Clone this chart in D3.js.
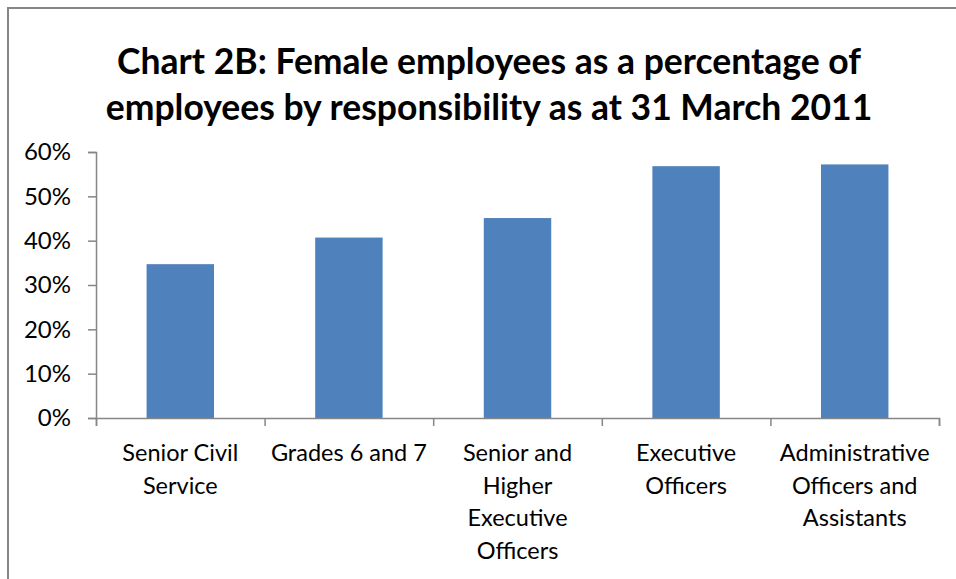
<!DOCTYPE html>
<html>
<head>
<meta charset="utf-8">
<script src="https://cdn.jsdelivr.net/npm/d3@7"></script>
<style>
  body { margin: 0; background: #fff; }
  svg { display: block; }
  svg text { font-family: Lato, "Open Sans", sans-serif; }
</style>
</head>
<body>
<div id="chart"></div>
<script>
// data
const categories = [
  "Senior Civil Service",
  "Grades 6 and 7",
  "Senior and Higher Executive Officers",
  "Executive Officers",
  "Administrative Officers and Assistants"
];
const tickLabels = [
  ["Senior Civil", "Service"],
  ["Grades 6 and 7"],
  ["Senior and", "Higher", "Executive", "Officers"],
  ["Executive", "Officers"],
  ["Administrative", "Officers and", "Assistants"]
];
const femalePct = [0.347, 0.407, 0.451, 0.568, 0.572];
const yTicks = [0, 0.1, 0.2, 0.3, 0.4, 0.5, 0.6];
const titleLines = [
  "Chart 2B: Female employees as a percentage of",
  "employees by responsibility as at 31 March 2011"
];

const W = 956, H = 579;
const margin = { top: 152, right: 17, bottom: 161, left: 96 };
const width = W - margin.left - margin.right;
const height = H - margin.top - margin.bottom;
const axisColor = "#868686";

const root = d3.select("#chart").append("svg")
  .attr("width", W)
  .attr("height", H);

// chart frame (runs off the right and bottom of the picture)
root.append("rect")
  .attr("x", 8).attr("y", 8)
  .attr("width", 1000).attr("height", 1000)
  .attr("fill", "none")
  .attr("stroke", axisColor)
  .attr("stroke-width", 2);

// title
root.append("g").selectAll("text")
  .data(titleLines)
  .enter().append("text")
  .attr("x", 489)
  .attr("y", (d, i) => 74 + i * 46)
  .attr("text-anchor", "middle")
  .style("font-weight", "bold")
  .style("font-size", "35.5px")
  .text(d => d);

const svg = root.append("g")
  .attr("transform", "translate(" + margin.left + "," + margin.top + ")");

const x = d3.scaleBand()
  .domain(categories)
  .range([0, width])
  .paddingInner(0.6)
  .paddingOuter(0.3);

const edges = d3.scaleLinear()
  .domain([0, categories.length])
  .range([0, width]);

const y = d3.scaleLinear()
  .domain([0, 0.6])
  .range([height, 0]);

// bars
svg.selectAll(".bar")
  .data(femalePct)
  .enter().append("rect")
  .attr("class", "bar")
  .attr("x", (d, i) => x(categories[i]))
  .attr("y", d => y(d))
  .attr("width", x.bandwidth())
  .attr("height", d => height - y(d))
  .attr("fill", "#4f81bd");

// y axis
const yAxis = svg.append("g")
  .call(d3.axisLeft(y).tickValues(yTicks).tickFormat(d3.format(".0%")).tickSize(8).tickPadding(17));
yAxis.selectAll("path, line").attr("stroke", axisColor).attr("stroke-width", 1.5);
yAxis.selectAll("text")
  .style("font-family", "Lato, sans-serif")
  .style("font-size", "24px")
  .attr("fill", "#000");

// x axis: boundary ticks
const xAxis = svg.append("g")
  .attr("transform", "translate(0," + height + ")")
  .call(d3.axisBottom(edges).ticks(categories.length).tickFormat("").tickSize(8).tickSizeOuter(8));
xAxis.selectAll("path, line").attr("stroke", axisColor).attr("stroke-width", 1.5);

// x category labels
const labels = svg.append("g")
  .selectAll("text")
  .data(categories)
  .enter().append("text")
  .attr("x", d => x(d) + x.bandwidth() / 2)
  .attr("y", height + 43)
  .attr("text-anchor", "middle")
  .style("font-size", "23.5px")
  .attr("fill", "#000");

labels.each(function(d, i) {
  const t = d3.select(this);
  tickLabels[i].forEach((line, j) => {
    t.append("tspan")
      .attr("x", x(d) + x.bandwidth() / 2)
      .attr("dy", j === 0 ? 0 : 32.5)
      .text(line);
  });
});
</script>
</body>
</html>
